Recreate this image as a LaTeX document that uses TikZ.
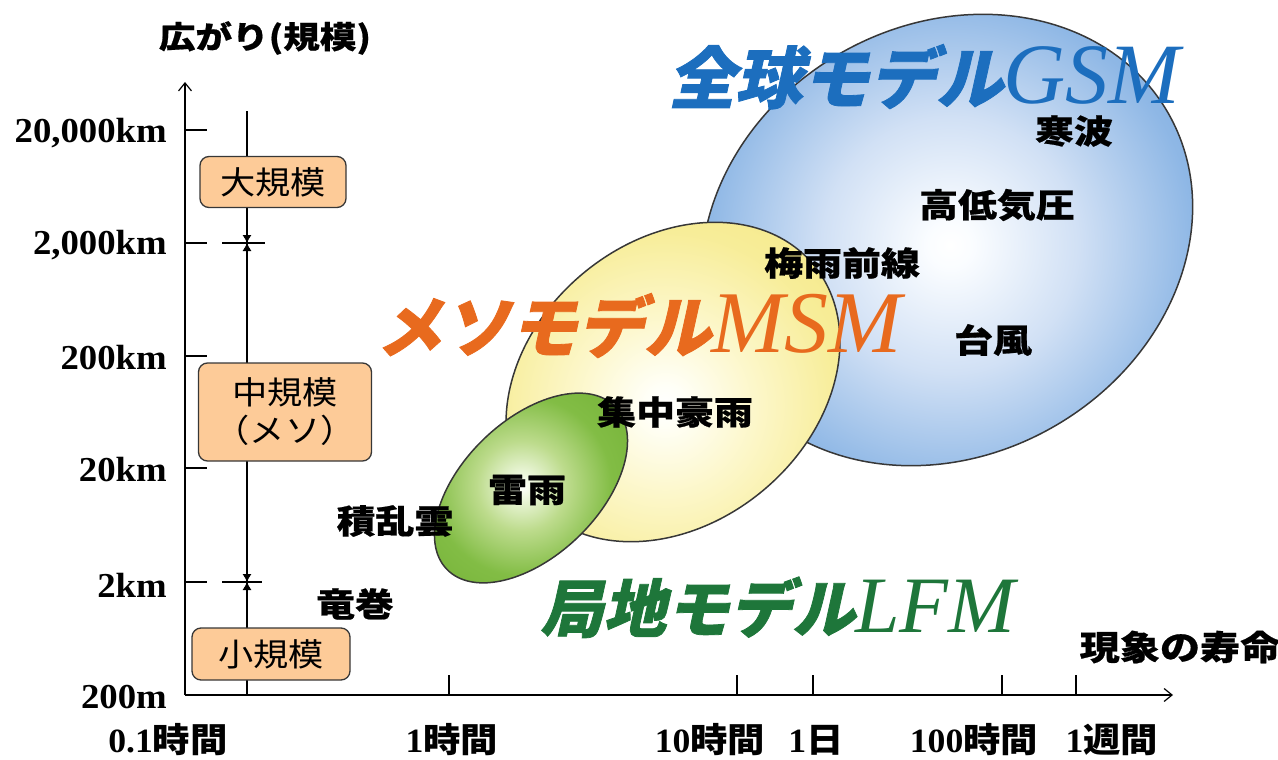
\documentclass[tikz,border=0pt]{standalone}
\usepackage{fontspec}
\usetikzlibrary{arrows.meta}
\newfontfamily\jp[FakeStretch=1.1]{Noto Sans CJK JP}
\newfontfamily\jpw[FakeStretch=1.18,FakeBold=0.6]{Noto Sans CJK JP}
\newfontfamily\jpsl[FakeSlant=0.22,FakeBold=1.2]{Noto Sans CJK JP}
\newfontfamily\tnr{Liberation Serif}
\newfontfamily\tnrb[FakeStretch=1.05]{Liberation Serif}
\definecolor{gsmblue}{RGB}{28,110,190}
\definecolor{msmorange}{RGB}{232,106,30}
\definecolor{lfmgreen}{RGB}{30,118,58}
\definecolor{boxfill}{RGB}{253,203,152}
\definecolor{edgegray}{RGB}{55,55,55}
\pgfdeclareradialshading{gsmsh}{\pgfpoint{0bp}{0bp}}{rgb(0bp)=(1,1,1);rgb(2bp)=(0.98,0.99,1);rgb(11bp)=(0.82,0.88,0.96);rgb(21bp)=(0.56,0.72,0.90);rgb(25bp)=(0.50,0.68,0.88);rgb(50bp)=(0.50,0.68,0.88)}
\pgfdeclareradialshading{msmsh}{\pgfpoint{0bp}{0bp}}{rgb(0bp)=(1,1,1);rgb(2bp)=(1,1,0.97);rgb(9bp)=(0.99,0.97,0.80);rgb(18bp)=(0.97,0.93,0.60);rgb(25bp)=(0.96,0.91,0.53);rgb(50bp)=(0.96,0.91,0.53)}
\pgfdeclareradialshading{lfmsh}{\pgfpoint{0bp}{0bp}}{rgb(0bp)=(1,1,1);rgb(1.5bp)=(0.95,0.98,0.90);rgb(8bp)=(0.74,0.86,0.55);rgb(16bp)=(0.51,0.74,0.27);rgb(25bp)=(0.46,0.70,0.22);rgb(50bp)=(0.46,0.70,0.22)}
\tikzset{
  axisline/.style={line width=2pt, black},
  tickline/.style={line width=2.4pt, black},
  thinline/.style={line width=1.4pt, black},
  scalebox/.style={draw=edgegray, line width=1.3pt, fill=boxfill, rounded corners=9pt, inner sep=0pt, font=\jp\fontsize{32}{36}\selectfont},
  lab/.style={inner sep=0pt, font=\jpw\bfseries\fontsize{33}{33}\selectfont},
  ylab/.style={inner sep=0pt, anchor=east, font=\tnrb\bfseries\fontsize{35}{35}\selectfont},
  xlab/.style={inner sep=0pt, font=\fontsize{34}{34}\selectfont},
  ellout/.style={draw=edgegray, line width=1.5pt},
  modeltitle/.style={inner sep=0pt, anchor=base west},
}
\newcommand{\jt}[1]{{\jp\bfseries #1}}
\newcommand{\nt}[1]{{\tnrb\bfseries #1}}
\newcommand{\nodepth}[1]{\raisebox{0pt}[\height][0pt]{#1}}
\begin{document}
\begin{tikzpicture}[x=1pt,y=-1pt]
\useasboundingbox (0,0) rectangle (1278,760);
% ---- ellipses ----
\begin{scope}
  \clip[rotate around={30:(947,240)}] (947,240) ellipse [x radius=255pt, y radius=215pt];
  \shade[shading=gsmsh] (950,245) circle (290pt);
\end{scope}
\draw[ellout, rotate around={30:(947,240)}] (947,240) ellipse [x radius=255pt, y radius=215pt];
\begin{scope}
  \clip[rotate around={40:(673,382)}] (673,382) ellipse [x radius=183pt, y radius=141pt];
  \shade[shading=msmsh] (665,405) circle (240pt);
\end{scope}
\draw[ellout, rotate around={40:(673,382)}] (673,382) ellipse [x radius=183pt, y radius=141pt];
\begin{scope}
  \clip[rotate around={44:(531,488)}] (531,488) ellipse [x radius=117pt, y radius=68pt];
  \shade[shading=lfmsh] (522,486) circle (140pt);
\end{scope}
\draw[ellout, rotate around={44:(531,488)}] (531,488) ellipse [x radius=117pt, y radius=68pt];
% ---- axes ----
\coordinate (O) at (185,695);
\coordinate (ytop) at (185,82);
\coordinate (xend) at (1173,695);
\draw[axisline, -{Straight Barb[length=8pt,width=13pt,line width=1.2pt]}] (O) -- (ytop);
\draw[axisline, -{Straight Barb[length=8pt,width=13pt,line width=1.2pt]}] (O) -- (xend);
\foreach \yy in {130,243,356,468,582} { \draw[tickline] (185,\yy) -- (207,\yy); }
\foreach \xx in {449,737,813,1002,1076} { \draw[tickline] (\xx,695) -- (\xx,675); }
% scale line
\coordinate (sTop) at (247,111);
\coordinate (sBot) at (247,695);
\draw[thinline] (sTop) -- (sBot);
\coordinate (mA) at (247,243);
\coordinate (mB) at (247,582);
\draw[thinline] (222,243) -- (265,243);
\draw[thinline] (222,582) -- (262,582);
\draw[-{Latex[length=8pt,width=9pt]}, line width=0.8pt] (247,233) -- (mA);
\draw[-{Latex[length=8pt,width=9pt]}, line width=0.8pt] (247,253) -- (mA);
\draw[-{Latex[length=8pt,width=9pt]}, line width=0.8pt] (247,572) -- (mB);
\draw[-{Latex[length=8pt,width=9pt]}, line width=0.8pt] (247,592) -- (mB);
% boxes
\node[scalebox, minimum width=146pt, minimum height=51pt] (large) at (273,182) {大規模};
\node[scalebox, minimum width=173pt, minimum height=98pt, align=center] (mid) at (285,412) {中規模\\[2pt]（メソ）};
\node[scalebox, minimum width=158pt, minimum height=52pt] (small) at (271,654) {小規模};
% y labels
\node[ylab] (y1) at (167,133) {20,000km};
\node[ylab] (y2) at (167,245) {2,000km};
\node[ylab] (y3) at (167,358) {200km};
\node[ylab] (y4) at (167,470) {20km};
\node[ylab] (y5) at (167,585) {2km};
\node[ylab] (y6) at (167,697) {200m};
% x labels
\node[xlab] (x1) at (168,740) {\nt{0.1}\jt{時間}};
\node[xlab] (x2) at (452,740) {\nt{1}\jt{時間}};
\node[xlab] (x3) at (710,740) {\nt{10}\jt{時間}};
\node[xlab] (x4) at (816,740) {\nt{1}\jt{日}};
\node[xlab] (x5) at (974,740) {\nt{100}\jt{時間}};
\node[xlab] (x6) at (1112,740) {\nt{1}\jt{週間}};
% axis titles
\node[lab, font=\jpw\bfseries\fontsize{31}{31}\selectfont] (ytitle) at (265,38) {広がり(規模)};
\node[lab, font=\jpw\bfseries\fontsize{34}{34}\selectfont] (xtitle) at (1180,647) {現象の寿命};
% phenomena
\node[lab] (p1) at (1074,131) {寒波};
\node[lab] (p2) at (997,205) {高低気圧};
\node[lab] (p3) at (842,263) {梅雨前線};
\node[lab] (p4) at (993,340) {台風};
\node[lab] (p5) at (675,412) {集中豪雨};
\node[lab] (p6) at (527,490) {雷雨};
\node[lab] (p7) at (395,521) {積乱雲};
\node[lab] (p8) at (355,604) {竜巻};
% model titles
\node[modeltitle, text=gsmblue] (gsm) at (668,103) {\nodepth{{\jpsl\bfseries\fontsize{67}{67}\selectfont 全球モデル}{\tnr\itshape\fontsize{86}{86}\selectfont GSM}}};
\node[modeltitle, text=msmorange] (msm) at (376,352) {\nodepth{{\jpsl\bfseries\fontsize{67}{67}\selectfont メソモデル}{\tnr\itshape\fontsize{88}{88}\selectfont MSM}}};
\node[modeltitle, text=lfmgreen] (lfm) at (540,632) {\nodepth{{\jpsl\bfseries\fontsize{63}{63}\selectfont 局地モデル}{\tnr\itshape\fontsize{80}{80}\selectfont LFM}}};
\end{tikzpicture}
\end{document}
